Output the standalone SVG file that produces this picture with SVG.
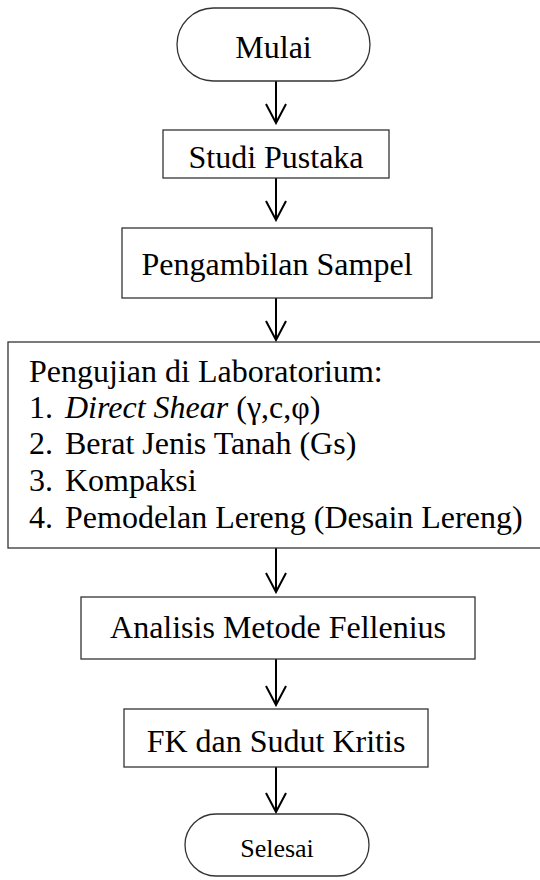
<svg xmlns="http://www.w3.org/2000/svg" width="540" height="880" viewBox="0 0 540 880">
<style>
.box{fill:#fff;stroke:#333;stroke-width:1.3}
.t{font-family:'Liberation Serif','Times New Roman',serif;font-size:32px;fill:#000}
.c{text-anchor:middle}
.conn{stroke:#000;stroke-width:2;fill:none}
</style>
<defs>
<marker id="ah" markerWidth="22" markerHeight="24" refX="20" refY="11" orient="auto" markerUnits="userSpaceOnUse" viewBox="0 0 22 22">
<path d="M1,1 L20,11 L1,21" fill="none" stroke="#000" stroke-width="2"/>
</marker>
</defs>
<rect width="540" height="880" fill="#fff"/>
<g id="connectors">
<line class="conn" x1="276" y1="81" x2="276" y2="123" marker-end="url(#ah)"/>
<line class="conn" x1="276" y1="178" x2="276" y2="220" marker-end="url(#ah)"/>
<line class="conn" x1="276" y1="298" x2="276" y2="340" marker-end="url(#ah)"/>
<line class="conn" x1="276" y1="548" x2="276" y2="592" marker-end="url(#ah)"/>
<line class="conn" x1="276" y1="659" x2="276" y2="705" marker-end="url(#ah)"/>
<line class="conn" x1="276" y1="767" x2="276" y2="812" marker-end="url(#ah)"/>
</g>
<g id="mulai">
<rect class="box" x="177" y="8" width="193" height="73" rx="36.5" ry="36.5"/>
<text class="t c" x="273.5" y="58">Mulai</text>
</g>
<g id="studi">
<rect class="box" x="163" y="130" width="226" height="48"/>
<text class="t c" x="276" y="168">Studi Pustaka</text>
</g>
<g id="sampel">
<rect class="box" x="122" y="228" width="310" height="70"/>
<text class="t c" x="277" y="275">Pengambilan Sampel</text>
</g>
<g id="lab">
<rect class="box" x="8" y="342" width="540" height="206"/>
<text class="t" x="29" y="382">Pengujian di Laboratorium:</text>
<text class="t" x="29" y="418">1.</text>
<text class="t" x="65" y="418"><tspan font-style="italic">Direct Shear</tspan> (γ,c,φ)</text>
<text class="t" x="29" y="454">2.</text>
<text class="t" x="65" y="454">Berat Jenis Tanah (Gs)</text>
<text class="t" x="29" y="491">3.</text>
<text class="t" x="65" y="491">Kompaksi</text>
<text class="t" x="29" y="528">4.</text>
<text class="t" x="65" y="528">Pemodelan Lereng (Desain Lereng)</text>
</g>
<g id="analisis">
<rect class="box" x="81" y="597" width="394" height="62"/>
<text class="t c" x="278" y="638">Analisis Metode Fellenius</text>
</g>
<g id="fk">
<rect class="box" x="124" y="709" width="304" height="58"/>
<text class="t c" x="276" y="752">FK dan Sudut Kritis</text>
</g>
<g id="selesai">
<rect class="box" x="185" y="814" width="184" height="62" rx="31" ry="31"/>
<text class="t c" x="277" y="857" style="font-size:26px">Selesai</text>
</g>
</svg>
